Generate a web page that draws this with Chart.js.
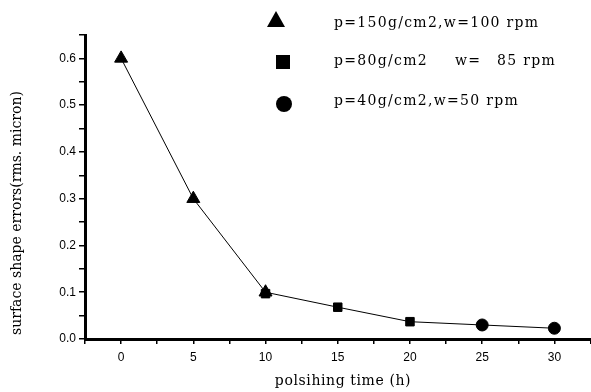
<!DOCTYPE html>
<html>
<head>
<meta charset="utf-8">
<script src="https://cdn.jsdelivr.net/npm/chart.js@4"></script>
<style>
  body { margin: 0; background: #fff; }
  #wrap { width: 591px; height: 392px; overflow: hidden; }
</style>
</head>
<body>
<div id="wrap"><canvas id="c" width="599" height="392"></canvas></div>
<script>
// polishing time (h) and surface error (rms micron) for each run
const timeHigh = [0, 5, 10];
const errHigh = [0.6, 0.3, 0.1];
const timeMid = [10, 15, 20];
const errMid = [0.097, 0.068, 0.037];
const timeLow = [25, 30];
const errLow = [0.030, 0.023];
const legendLabels = ['p=150g/cm2,w=100 rpm', 'p=80g/cm2', 'p=40g/cm2,w=50 rpm'];
const xTitle = 'polsihing time (h)';
const yTitle = 'surface shape errors(rms. micron)';

function pts(xs, ys) {
    return xs.map(function(x, i){ return {x: x, y: ys[i]} })
}

// one thin line going through every measured point
const curve = pts(timeHigh, errHigh).concat(pts(timeMid.slice(1), errMid.slice(1)), pts(timeLow, errLow))

const serif = '"DejaVu Serif", "Liberation Serif", serif'

const overlay = {
    id: 'overlay',
    afterDraw: function(chart){
        const ctx = chart.ctx
        ctx.save()
        ctx.fillStyle = '#000'
        // axis titles
        ctx.font = '14px ' + serif
        ctx.letterSpacing = '0.6px'
        ctx.textAlign = 'center'
        ctx.textBaseline = 'middle'
        ctx.fillText(xTitle, 343, 381)
        ctx.save()
        ctx.translate(17, 213)
        ctx.rotate(-Math.PI / 2)
        ctx.letterSpacing = '0px'
        ctx.fillText(yTitle, 0, 0)
        ctx.restore()

        // legend
        ctx.textAlign = 'left'
        ctx.font = '14px ' + serif
        ctx.letterSpacing = '1.3px'
        // triangle
        ctx.beginPath()
        ctx.moveTo(276, 11)
        ctx.lineTo(285, 27)
        ctx.lineTo(267, 27)
        ctx.closePath()
        ctx.fill()
        ctx.fillText(legendLabels[0], 334, 23)
        // square
        ctx.fillRect(276, 55, 14, 14)
        ctx.fillText(legendLabels[1], 334, 61)
        ctx.fillText('w=', 455, 61)
        ctx.fillText('85 rpm', 497, 61)
        // circle
        ctx.beginPath()
        ctx.arc(284, 104, 8, 0, Math.PI * 2)
        ctx.fill()
        ctx.fillText(legendLabels[2], 334, 101)
        ctx.restore()
    }
}

const ctx = document.getElementById('c').getContext('2d')
const chart = new Chart(ctx, {
    type: 'scatter',
    data: {
        datasets: [{
            data: curve,
            showLine: true,
            borderColor: '#000',
            borderWidth: 1,
            pointRadius: 0
        },
        {
            data: pts(timeHigh, errHigh),
            pointStyle: 'triangle',
            pointRadius: 7.5,
            backgroundColor: '#000',
            borderColor: '#000'
        },
        {
            data: pts(timeMid, errMid),
            pointStyle: 'rect',
            pointRadius: 6,
            backgroundColor: '#000',
            borderColor: '#000'
        },
        {
            data: pts(timeLow, errLow),
            pointStyle: 'circle',
            pointRadius: 6,
            backgroundColor: '#000',
            borderColor: '#000'
        }]
    },
    options: {
        animation: false,
        responsive: false,
        layout: { padding: { top: 35, right: 1, left: 0, bottom: 0 } },
        plugins: { legend: { display: false }, tooltip: { enabled: false } },
        scales: {
            x: {
                type: 'linear',
                min: -2.5,
                max: 32.5,
                afterFit: function(s){ s.height = 53; s.paddingLeft = 0; s.paddingRight = 0 },
                border: { color: '#000', width: 3 },
                grid: { drawOnChartArea: false, color: '#000', tickLength: 5, lineWidth: 1.5 },
                ticks: {
                    stepSize: 2.5,
                    color: '#000',
                    padding: 6,
                    font: { family: '"Liberation Sans", Arial, sans-serif', size: 12 },
                    callback: function(v){ return (v % 5 === 0 && v >= 0 && v <= 30) ? String(v) : '' }
                }
            },
            y: {
                min: 0,
                max: 0.65,
                afterFit: function(s){ s.width = 85 },
                border: { color: '#000', width: 3 },
                grid: { drawOnChartArea: false, color: '#000', tickLength: 6, lineWidth: 1.5 },
                ticks: {
                    stepSize: 0.05,
                    color: '#000',
                    padding: 3,
                    font: { family: '"Liberation Sans", Arial, sans-serif', size: 12 },
                    callback: function(v){
                        const r = Math.round(v * 100)
                        return (r % 10 === 0 && r <= 60) ? (r / 100).toFixed(1) : ''
                    }
                }
            }
        }
    },
    plugins: [overlay]
})
</script>
</body>
</html>
